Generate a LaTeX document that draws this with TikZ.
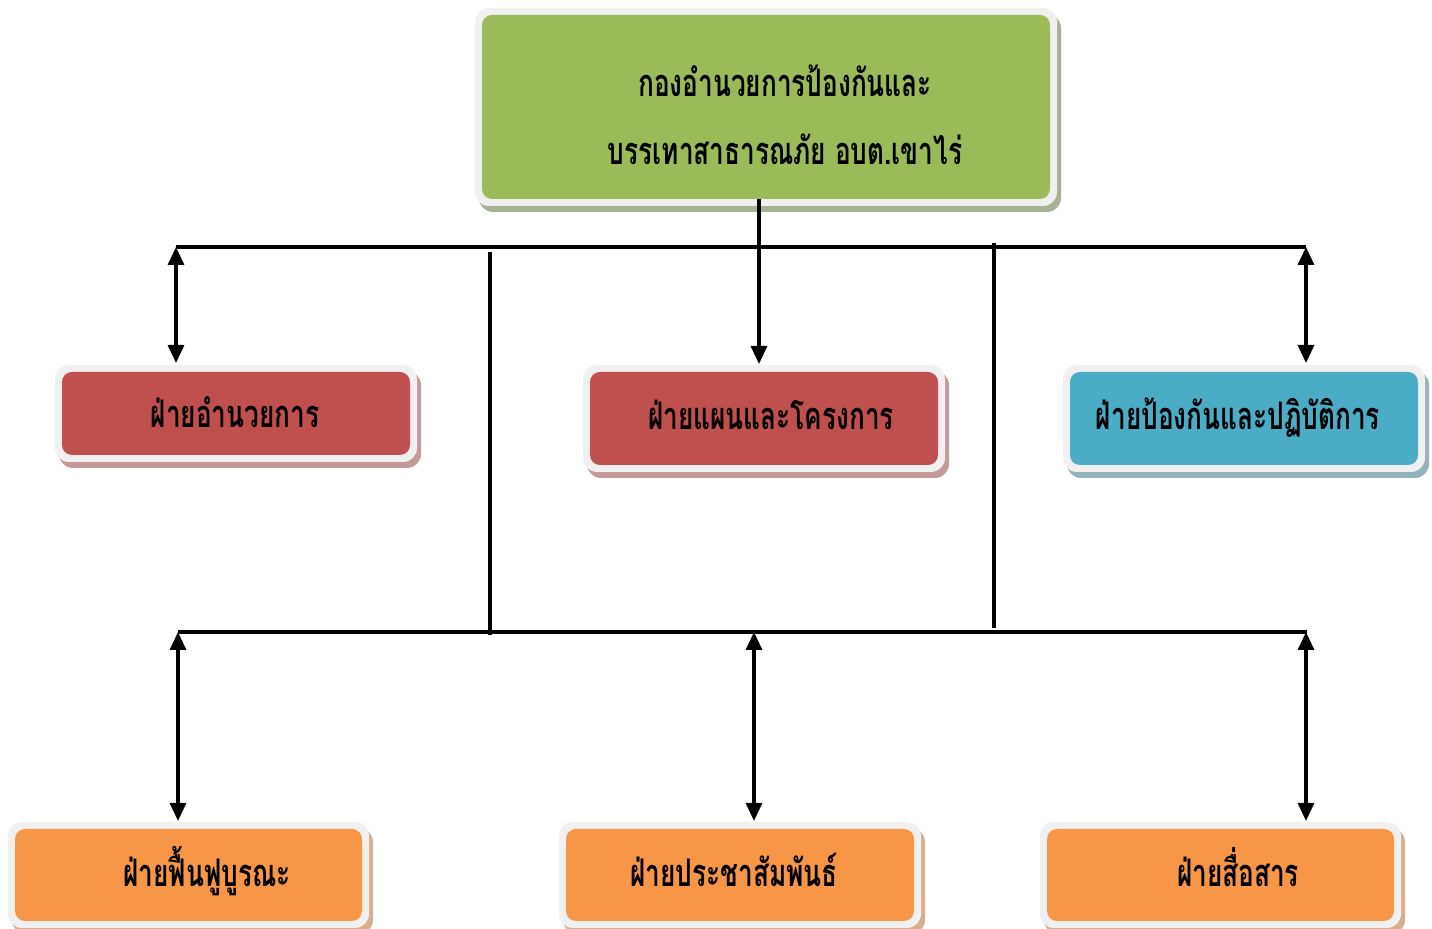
\documentclass[tikz,border=0pt]{standalone}
\usepackage{fontspec}
\newfontfamily\thaifont[Script=Thai,FakeStretch=0.69]{Loma}
\usetikzlibrary{arrows.meta,calc}
\definecolor{cgreen}{HTML}{9BBB59}
\definecolor{cred}{HTML}{C0504D}
\definecolor{cblue}{HTML}{4BACC6}
\definecolor{corange}{HTML}{F79646}
\definecolor{cborder}{HTML}{F0F0F0}
\definecolor{shgreen}{HTML}{A7B295}
\definecolor{shred}{HTML}{C49A98}
\definecolor{shblue}{HTML}{92B3BC}
\definecolor{shorange}{HTML}{D9AE8E}
\tikzset{
  box/.style={draw=none, rounded corners=5pt, inner sep=0pt},
  lbl/.style={font=\thaifont\bfseries\fontsize{19}{23}\selectfont, inner sep=0pt, text=black, anchor=base},
  ln/.style={line width=1.6pt, black},
  dbl/.style={ln, {Triangle[width=8pt,length=9pt]}-{Triangle[width=8pt,length=9pt]}},
  sgl/.style={ln, -{Triangle[width=8pt,length=9pt]}},
}
\newcommand{\fancybox}[7]{% name, cx, cy, w(pt), h(pt), fill, shadow
  \fill[#7, rounded corners=7pt] ($(#2,#3)+(-#4/2-3.5pt+2pt,-#5/2-3.5pt-3pt)$) rectangle ($(#2,#3)+(#4/2+3.5pt+2pt,#5/2+3.5pt-3pt)$);
  \fill[cborder, rounded corners=7pt] ($(#2,#3)+(-#4/2-3.5pt,-#5/2-3.5pt)$) rectangle ($(#2,#3)+(#4/2+3.5pt,#5/2+3.5pt)$);
  \node[box, fill=#6, minimum width=#4, minimum height=#5] (#1) at (#2,#3) {};
}
\begin{document}
\begin{tikzpicture}[x=0.5pt,y=-0.5pt]
\useasboundingbox (0,0) rectangle (1432,929);
% top box
\fancybox{top}{766}{107}{284pt}{92pt}{cgreen}{shgreen}
\node[lbl] (t1) at (785,97) {กองอำนวยการป้องกันและ};
\node[lbl] (t2) at (785,165) {บรรเทาสาธารณภัย อบต.เขาไร่};
% row 1
\fancybox{b1}{236}{413.5}{174pt}{41.5pt}{cred}{shred}
\node[lbl] (l1) at (235,428) {ฝ่ายอำนวยการ};
\fancybox{b2}{764}{418.5}{174pt}{46.5pt}{cred}{shred}
\node[lbl] (l2) at (771,430) {ฝ่ายแผนและโครงการ};
\fancybox{b3}{1244}{418.5}{174pt}{46.5pt}{cblue}{shblue}
\node[lbl] (l3) at (1238,430) {ฝ่ายป้องกันและปฏิบัติการ};
% row 2
\fancybox{b4}{188.5}{875}{173.5pt}{46pt}{corange}{shorange}
\node[lbl] (l4) at (207,887) {ฝ่ายฟื้นฟูบูรณะ};
\fancybox{b5}{740}{875}{174pt}{46pt}{corange}{shorange}
\node[lbl] (l5) at (734,887) {ฝ่ายประชาสัมพันธ์};
\fancybox{b6}{1220.5}{875}{173.5pt}{46pt}{corange}{shorange}
\node[lbl] (l6) at (1238,887) {ฝ่ายสื่อสาร};
% connector coordinates
\coordinate (hL) at (176,247);
\coordinate (hR) at (1306,247);
\coordinate (gL) at (178,632);
\coordinate (gR) at (1307,632);
\coordinate (v1t) at (490,252);
\coordinate (v1b) at (490,635);
\coordinate (v2t) at (994,243);
\coordinate (v2b) at (994,628);
% lines
\draw[ln] (hL) -- (hR);
\draw[ln] (gL) -- (gR);
\draw[ln] (v1t) -- (v1b);
\draw[ln] (v2t) -- (v2b);
\draw[sgl] (top.south -| 759,0) -- (759,364);
\draw[dbl] (hL) -- (176,363);
\draw[dbl] (hR) -- (1306,363);
\draw[dbl] (gL) -- (178,821);
\draw[dbl] (754,632) -- (754,821);
\draw[dbl] (1306,632) -- (1306,821);
\end{tikzpicture}
\end{document}
